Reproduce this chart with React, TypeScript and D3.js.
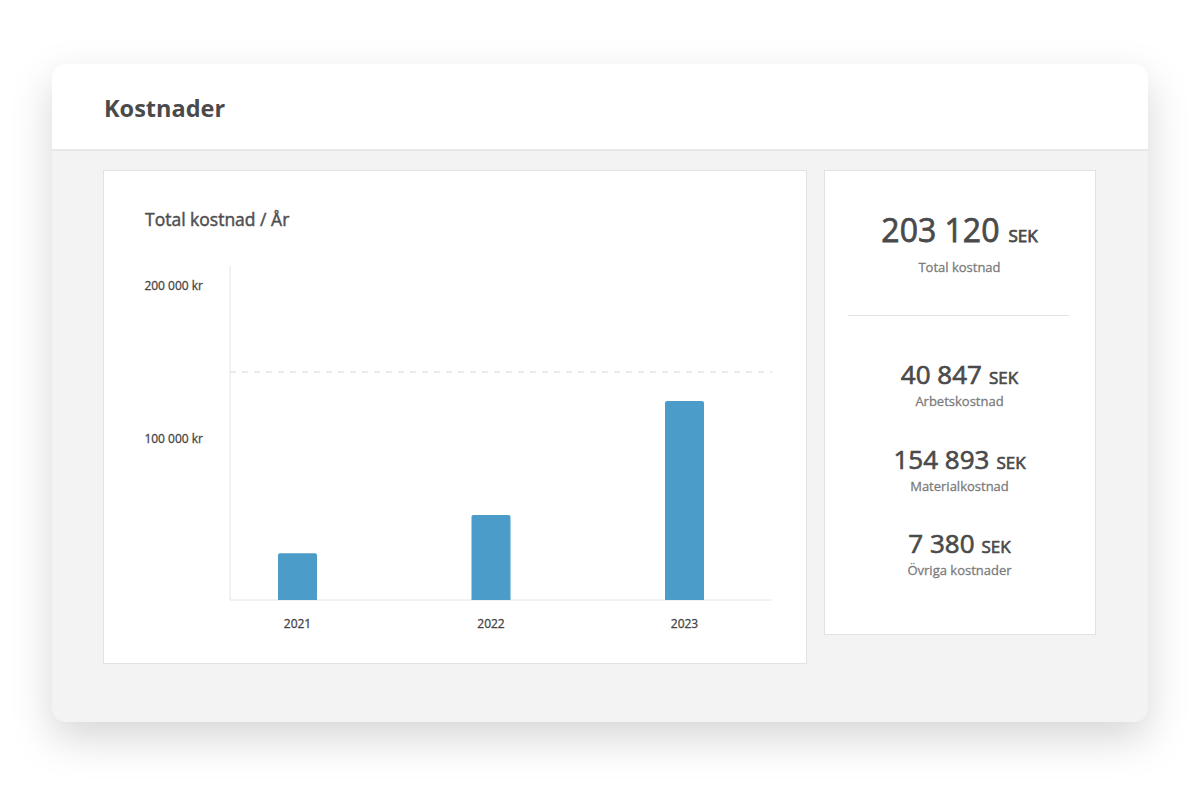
import React from "react";
import * as d3 from "d3";

const years = ["2021", "2022", "2023"];
const totals = [30500, 55500, 130000];
const yTicks = [100000, 200000];
const refValue = 149000;
const stats = [
  { value: "40 847", label: "Arbetskostnad" },
  { value: "154 893", label: "Materialkostnad" },
  { value: "7 380", label: "Övriga kostnader" },
];
const totalValue = "203 120";
const totalLabel = "Total kostnad";

const FONT = "'Open Sans', 'Noto Sans', sans-serif";

export default function App() {
  const y = d3.scaleLinear().domain([0, 100000]).range([600, 447]);
  const x = d3.scalePoint<string>().domain(years).range([297.5, 684.5]);
  const barW = 39;
  const fmt = (v: number) => d3.format(",")(v).replace(/,/g, " ") + " kr";

  const cardX = 52, cardY = 64, cardW = 1096, cardH = 658, r = 16;
  const headerBottom = 150;

  const bodyPath = `M${cardX},${headerBottom} H${cardX + cardW} V${cardY + cardH - r} Q${cardX + cardW},${cardY + cardH} ${cardX + cardW - r},${cardY + cardH} H${cardX + r} Q${cardX},${cardY + cardH} ${cardX},${cardY + cardH - r} Z`;

  const rpCx = 959.5;
  const med = (c: string, w = 0.45) => ({ fill: c, stroke: c, strokeWidth: w });

  return (
    <svg width={1200} height={786} style={{ position: "absolute", left: 0, top: 0, fontFamily: FONT }}>
      <defs>
        <filter id="sh" x="-20%" y="-20%" width="140%" height="160%">
          <feDropShadow dx="0" dy="16" stdDeviation="20" floodColor="#000" floodOpacity="0.16" />
        </filter>
      </defs>
      <rect width={1200} height={786} fill="#fff" />
      <rect x={cardX} y={cardY} width={cardW} height={cardH} rx={r} fill="#fff" filter="url(#sh)" />
      <path d={bodyPath} fill="#f3f3f3" />
      <line x1={cardX} x2={cardX + cardW} y1={headerBottom} y2={headerBottom} stroke="#e2e2e2" strokeWidth={1.5} />
      <text x={104} y={117} fontSize={23.5} fontWeight={700} fill="#4a4a4a">Kostnader</text>

      {/* chart panel */}
      <rect x={103.5} y={170.5} width={703} height={493} fill="#fff" stroke="#e2e2e2" />
      <text x={145} y={226} fontSize={17.5} {...med("#4f4f4f", 0.45)}>Total kostnad / År</text>
      <line x1={230} x2={230} y1={266} y2={600} stroke="#e4e4e4" />
      <line x1={230} x2={771} y1={600} y2={600} stroke="#e4e4e4" />
      <line x1={230} x2={772} y1={y(refValue)} y2={y(refValue)} stroke="#d6d6d6" strokeDasharray="6 6" />
      {yTicks.map((t) => (
        <text key={t} x={203} y={y(t) - 7} textAnchor="end" dominantBaseline="middle" fontSize={12} {...med("#444", 0.28)}>
          {fmt(t)}
        </text>
      ))}
      {years.map((yr, i) => (
        <g key={yr}>
          <path
            d={`M${x(yr)! - barW / 2},${y(0)} V${y(totals[i]) + 2} Q${x(yr)! - barW / 2},${y(totals[i])} ${x(yr)! - barW / 2 + 2},${y(totals[i])} H${x(yr)! + barW / 2 - 2} Q${x(yr)! + barW / 2},${y(totals[i])} ${x(yr)! + barW / 2},${y(totals[i]) + 2} V${y(0)} Z`}
            fill="#4b9cc9"
          />
          <text x={x(yr)} y={625} textAnchor="middle" dominantBaseline="middle" fontSize={12} {...med("#444", 0.28)}>
            {yr}
          </text>
        </g>
      ))}

      {/* right panel */}
      <rect x={824.5} y={170.5} width={271} height={464} fill="#fff" stroke="#e2e2e2" />
      <text x={rpCx} y={242} textAnchor="middle" {...med("#4a4a4a", 0.75)}>
        <tspan fontSize={32}>{totalValue}</tspan>
        <tspan fontSize={17} dx={9}>SEK</tspan>
      </text>
      <text x={rpCx} y={272} textAnchor="middle" fontSize={13} {...med("#7a7a7a", 0.28)}>{totalLabel}</text>
      <line x1={848} x2={1069} y1={315.5} y2={315.5} stroke="#e2e2e2" />
      {stats.map((s, i) => (
        <g key={s.label}>
          <text x={rpCx} y={384 + i * 84.5} textAnchor="middle" {...med("#4a4a4a", 0.65)}>
            <tspan fontSize={26}>{s.value}</tspan>
            <tspan fontSize={17} dx={7}>SEK</tspan>
          </text>
          <text x={rpCx} y={406 + i * 84.5} textAnchor="middle" fontSize={13} {...med("#7a7a7a", 0.28)}>{s.label}</text>
        </g>
      ))}
    </svg>
  );
}
